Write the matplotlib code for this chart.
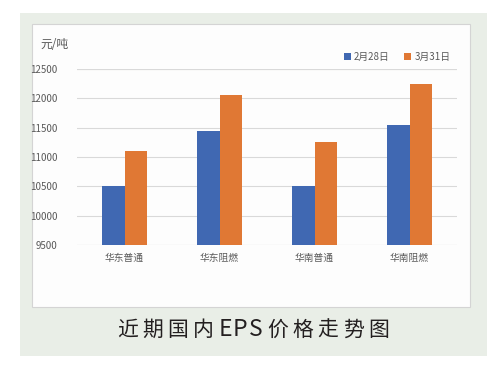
import numpy as np
import matplotlib.pyplot as plt
from matplotlib.patches import Rectangle

plt.rcParams['font.family'] = ['Noto Sans CJK SC', 'DejaVu Sans']

# data
categories = ["华东普通", "华东阻燃", "华南普通", "华南阻燃"]
feb28 = [10500, 11450, 10500, 11550]
mar31 = [11100, 12050, 11250, 12250]
series_names = ["2月28日", "3月31日"]
yticks = [9500, 10000, 10500, 11000, 11500, 12000, 12500]
title = "近期国内EPS价格走势图"

W, H = 496, 374
fig = plt.figure(figsize=(W / 100, H / 100), dpi=100)
fig.patch.set_facecolor("white")

def px(x, y, w, h):
    # pixel box (top-left origin) -> figure fraction
    return [x / W, 1 - (y + h) / H, w / W, h / H]

# green-gray panel and white chart box
bg = fig.add_axes([0, 0, 1, 1])
bg.set_xlim(0, W)
bg.set_ylim(H, 0)
bg.axis("off")
bg.add_patch(Rectangle((20, 13), 467, 343, facecolor="#e9eee7", edgecolor="none"))
bg.add_patch(Rectangle((32, 24), 438, 283, facecolor="#fdfdfd", edgecolor="#d4d4d4", lw=0.8))
bg.text(40, 44, "元/吨", ha="left", va="center", fontsize=8.5, color="#595959")

# title with wide letter spacing for the CJK glyphs, laid out one by one
renderer = fig.canvas.get_renderer()
glyphs = []
for c in title:
    latin = c.isascii()
    glyphs.append(bg.text(0, 330, c, ha="left", va="center",
                          fontsize=16.5 if latin else 15, color="#231f20",
                          fontweight="medium"))
widths = [g.get_window_extent(renderer).width for g in glyphs]
gaps = []
for a, b in zip(title[:-1], title[1:]):
    gaps.append(1.0 if (a.isascii() and b.isascii()) else 4.5)
total = sum(widths) + sum(gaps)
cur = 253 - total / 2
for i, (g, w) in enumerate(zip(glyphs, widths)):
    g.set_x(cur)
    cur += w + (gaps[i] if i < len(gaps) else 0)

ax = fig.add_axes(px(77, 69, 380, 176))
ax.set_facecolor("none")
x = np.arange(len(categories))
bw = 0.237
ax.bar(x - bw / 2, feb28, bw, color="#4068b2", label=series_names[0], zorder=3)
ax.bar(x + bw / 2, mar31, bw, color="#e07834", label=series_names[1], zorder=3)

ax.set_xlim(-0.5, 3.5)
ax.set_ylim(9500, 12500)
ax.set_yticks(yticks)
ax.set_yticklabels([str(v) for v in yticks], fontsize=7, color="#595959")
ax.set_xticks(x)
ax.set_xticklabels(categories, fontsize=7, color="#595959")
ax.tick_params(length=0)
ax.tick_params(axis="y", pad=14)
ax.tick_params(axis="x", pad=6)
ax.grid(axis="y", color="#d9d9d9", lw=0.8, zorder=0)
for s in ax.spines.values():
    s.set_visible(False)
ax.axhline(9500, color="#d9d9d9", lw=0.8, zorder=1)
ax.axhline(12500, color="#d0d0cc", lw=1.5, zorder=1)

leg = ax.legend(loc="lower right", bbox_to_anchor=(1.0, 1.0), ncol=2, frameon=False,
                fontsize=7, handlelength=0.7, handleheight=0.7, handletextpad=0.3,
                columnspacing=1.5, borderaxespad=0.3)
for t in leg.get_texts():
    t.set_color("#595959")

fig.savefig("out.png", dpi=100)
